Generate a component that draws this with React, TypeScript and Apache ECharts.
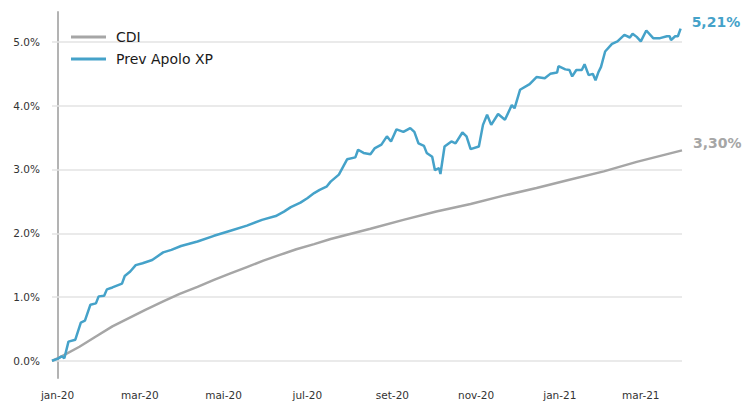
import { useEffect, useRef } from "react";
import * as echarts from "echarts";

// x values are days counted from 2020-01-01
const CDI_DAYS = [
  -4, 3, 16, 28, 40, 52, 64, 77, 89, 102, 114, 126, 138, 150, 162, 174, 187, 199, 228, 252,
  276, 301, 325, 349, 373, 398, 422, 455,
];
const CDI_VALUES = [
  0, 0.07, 0.22, 0.38, 0.54, 0.67, 0.8, 0.93, 1.05, 1.16, 1.27, 1.37, 1.47, 1.57, 1.66, 1.75, 1.83, 1.91, 2.07, 2.21,
  2.34, 2.46, 2.59, 2.71, 2.84, 2.97, 3.12, 3.3,
];

const PREV_DAYS = [
  -4, 0, 3, 5, 8, 13, 17, 20, 24, 28, 30, 34, 36, 40, 47, 49, 53, 57, 62, 69,
  77, 83, 90, 102, 114, 126, 138, 149, 159, 165, 170, 177, 182, 187, 191, 196, 199, 205, 211, 217,
  219, 223, 228, 231, 236, 240, 243, 247, 252, 257, 260, 263, 267, 269, 273, 275, 278, 279, 282, 287,
  290, 295, 298, 301, 307, 310, 313, 316, 321, 326, 331, 333, 337, 344, 349, 355, 359, 364, 365, 370,
  373, 375, 378, 382, 384, 387, 390, 392, 394, 396, 399, 404, 408, 413, 417, 419, 422, 425, 429, 434,
  439, 444, 446, 447, 450, 452, 454,
];
const PREV_VALUES = [
  0, 0.03, 0.07, 0.04, 0.3, 0.33, 0.6, 0.63, 0.88, 0.9, 1.01, 1.02, 1.12, 1.15, 1.21, 1.33, 1.4, 1.5, 1.53, 1.58,
  1.7, 1.74, 1.8, 1.87, 1.96, 2.04, 2.12, 2.21, 2.27, 2.34, 2.41, 2.48, 2.55, 2.63, 2.68, 2.73, 2.81, 2.92, 3.16, 3.19,
  3.31, 3.26, 3.24, 3.33, 3.39, 3.52, 3.44, 3.63, 3.59, 3.65, 3.59, 3.41, 3.37, 3.26, 3.2, 2.99, 3.02, 2.93, 3.36, 3.44,
  3.41, 3.58, 3.52, 3.32, 3.36, 3.7, 3.86, 3.7, 3.87, 3.78, 4.01, 3.96, 4.25, 4.34, 4.45, 4.43, 4.5, 4.52, 4.62, 4.57,
  4.56, 4.46, 4.56, 4.56, 4.65, 4.48, 4.5, 4.4, 4.52, 4.61, 4.85, 4.97, 5.01, 5.11, 5.07, 5.13, 5.08, 5.01, 5.18, 5.06,
  5.06, 5.09, 5.09, 5.03, 5.09, 5.09, 5.21,
];

const MONTH_TICKS = [0, 60, 121, 182, 244, 305, 366, 425];
const MONTH_LABELS = ["jan-20", "mar-20", "mai-20", "jul-20", "set-20", "nov-20", "jan-21", "mar-21"];
const Y_TICKS = [0, 1, 2, 3, 4, 5];

const BLUE = "#45a2c9";
const GRAY = "#a6a6a6";

const zip = (xs: number[], ys: number[]) => xs.map((x, i) => [x, ys[i]]);
const pct = (v: number) => v.toFixed(2).replace(".", ",") + "%";

export default function App() {
  const chartRef = useRef<HTMLDivElement>(null);

  useEffect(() => {
    document.body.style.margin = "0";
    if (!chartRef.current) return;
    const chart = echarts.init(chartRef.current, null, { renderer: "svg" });

    const endLabel = (color: string) => ({
      show: true,
      color,
      fontSize: 14,
      fontWeight: "bold" as const,
      offset: [3, -7],
      formatter: (p: any) => pct(p.value[1]),
    });

    chart.setOption({
      animation: false,
      textStyle: { fontFamily: "DejaVu Sans" },
      grid: { left: 52, right: 71, top: 12, bottom: 36 },
      legend: {
        orient: "vertical",
        left: 66,
        top: 25,
        itemGap: 8,
        icon: "rect",
        itemWidth: 35,
        itemHeight: 3,
        textStyle: { fontSize: 14, color: "#1a1a1a", padding: [0, 0, 0, 5] },
        data: ["CDI", "Prev Apolo XP"],
      },
      xAxis: {
        type: "value",
        min: -4,
        max: 455,
        axisLine: { show: false },
        axisTick: { show: false },
        splitLine: { show: false },
        axisLabel: {
          customValues: MONTH_TICKS,
          margin: 11,
          fontSize: 10.5,
          color: "#333",
          formatter: (v: number) => MONTH_LABELS[MONTH_TICKS.indexOf(v)] ?? "",
        },
      },
      yAxis: {
        type: "value",
        min: -0.27,
        max: 5.47,
        axisLine: { show: true, lineStyle: { color: "#b3b3b3", width: 2 } },
        axisTick: { show: false },
        splitLine: { show: false },
        axisLabel: {
          customValues: Y_TICKS,
          margin: 12,
          fontSize: 10.5,
          color: "#333",
          formatter: (v: number) => v.toFixed(1) + "%",
        },
      },
      series: [
        {
          name: "CDI",
          type: "line",
          data: zip(CDI_DAYS, CDI_VALUES),
          showSymbol: false,
          itemStyle: { color: GRAY },
          lineStyle: { color: GRAY, width: 2.5 },
          endLabel: endLabel(GRAY),
          markLine: {
            silent: true,
            z: 1,
            symbol: "none",
            label: { show: false },
            lineStyle: { color: "#e3e3e3", width: 1.5, type: "solid" },
            data: Y_TICKS.map((v) => ({ yAxis: v })),
          },
        },
        {
          name: "Prev Apolo XP",
          type: "line",
          data: zip(PREV_DAYS, PREV_VALUES),
          showSymbol: false,
          itemStyle: { color: BLUE },
          lineStyle: { color: BLUE, width: 2.5 },
          endLabel: endLabel(BLUE),
        },
      ],
    });

    return () => chart.dispose();
  }, []);

  return <div ref={chartRef} style={{ width: "753px", height: "414px" }} />;
}
